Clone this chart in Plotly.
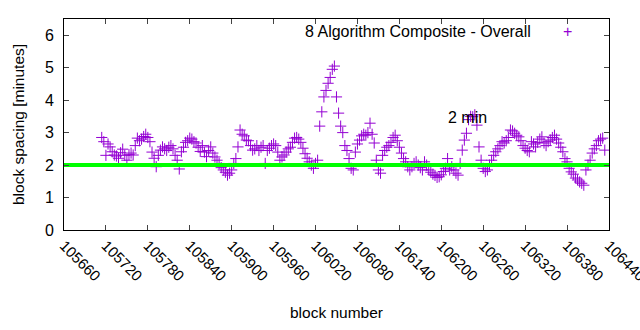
import numpy as np
import plotly.graph_objects as go

# block numbers (every 3rd block, 105714 .. 106434)
blocks = list(range(105714, 106435, 3))

# block spacing in minutes
spacing = [
    2.85, 2.72, 2.30, 2.65, 2.56, 2.41, 2.31, 2.28, 2.21, 2.38,
    2.49, 2.30, 2.15, 2.32, 2.37, 2.31, 2.60, 2.83, 2.75, 2.80,
    2.88, 2.95, 2.85, 2.72, 2.40, 2.21, 1.95, 2.30, 2.46, 2.56,
    2.50, 2.45, 2.55, 2.60, 2.50, 2.30, 2.15, 1.88, 2.41, 2.55,
    2.70, 2.75, 2.83, 2.80, 2.72, 2.68, 2.55, 2.42, 2.60, 2.40,
    2.26, 2.45, 2.56, 2.37, 2.25, 2.15, 2.05, 1.92, 1.85, 1.78,
    1.69, 1.75, 1.85, 2.05, 2.20, 2.56, 3.08, 2.95, 2.90, 2.77,
    2.75, 2.60, 2.46, 2.50, 2.60, 2.45, 2.55, 2.60, 2.05, 2.45,
    2.52, 2.60, 2.65, 2.60, 2.40, 2.15, 2.25, 2.31, 2.40, 2.50,
    2.55, 2.70, 2.83, 2.85, 2.80, 2.70, 2.52, 2.35, 2.21, 2.10,
    2.00, 1.90, 2.05, 2.15, 3.20, 3.64, 4.10, 4.30, 4.52, 4.70,
    4.95, 5.05, 4.10, 3.60, 3.20, 3.00, 2.60, 2.45, 2.20, 1.90,
    1.85, 2.40, 2.65, 2.77, 2.90, 2.95, 2.92, 3.00, 3.29, 2.95,
    2.68, 2.15, 1.85, 1.75, 2.30, 2.45, 2.55, 2.60, 2.70, 2.85,
    2.92, 2.75, 2.55, 2.37, 2.20, 2.10, 1.95, 1.85, 1.95, 2.05,
    2.10, 2.00, 1.92, 1.85, 2.10, 2.00, 1.85, 1.78, 1.72, 1.68,
    1.62, 1.64, 1.70, 1.80, 1.90, 2.20, 1.85, 1.95, 1.85, 1.75,
    1.69, 2.05, 2.46, 2.77, 2.98, 3.40, 3.50, 3.49, 3.55, 3.23,
    2.56, 2.15, 1.90, 1.80, 1.85, 2.00, 2.15, 2.30, 2.41, 2.50,
    2.60, 2.72, 2.68, 2.75, 2.85, 3.08, 3.05, 2.98, 2.92, 2.87,
    2.75, 2.60, 2.52, 2.45, 2.41, 2.72, 2.65, 2.56, 2.70, 2.80,
    2.87, 2.68, 2.60, 2.72, 2.77, 2.85, 2.92, 2.80, 2.68, 2.55,
    2.41, 2.20, 2.10, 1.90, 1.79, 1.72, 1.60, 1.54, 1.48, 1.44,
    1.38, 1.85, 2.00, 2.15, 2.37, 2.50, 2.60, 2.75, 2.80, 2.83,
    2.46,
]

x_ticks = list(range(105660, 106441, 60))
x_tick_labels = [str(v) for v in x_ticks]
y_ticks = [0, 1, 2, 3, 4, 5, 6]

target_x = [105660, 106440]
target_y = [2, 2]

series_name = "8 Algorithm Composite - Overall"
label_text = "2 min"
label_pos = (106207, 3.48)

FONT = "Liberation Sans, Arial, sans-serif"

fig = go.Figure()
fig.add_trace(go.Scatter(
    x=blocks, y=spacing, mode="markers", name=series_name,
    marker=dict(symbol="cross-thin", size=8, color="#9400D3",
                line=dict(color="#9400D3", width=1)),
    showlegend=False,
))
fig.add_trace(go.Scatter(
    x=target_x, y=target_y, mode="lines",
    line=dict(color="#00FF00", width=4), showlegend=False,
))

fig.update_layout(
    width=640, height=330,
    margin=dict(l=64, r=31, t=19, b=100),
    paper_bgcolor="white", plot_bgcolor="white",
    font=dict(family=FONT, size=16, color="black"),
    xaxis=dict(
        range=[105660, 106440.05], tickmode="array", tickvals=x_ticks,
        ticktext=x_tick_labels, tickangle=45, ticks="inside", ticklen=5,
        mirror="allticks", showline=True, linecolor="black", linewidth=1,
        showgrid=False, zeroline=False, tickfont=dict(size=15),
        ticklabeloverflow="allow", automargin=False,
        title=dict(text="block number", standoff=23, font=dict(size=15.5)),
    ),
    yaxis=dict(
        range=[0, 6.5], tickmode="array", tickvals=y_ticks,
        ticks="inside", ticklen=5, mirror="allticks", showline=True,
        linecolor="black", linewidth=1, showgrid=False, zeroline=False,
        ticklabelstandoff=6, automargin=False,
        title=dict(text="block spacing [minutes]", standoff=16,
                   font=dict(size=15.5)),
    ),
    annotations=[
        dict(x=label_pos[0], y=label_pos[1], xref="x", yref="y",
             text=label_text, showarrow=False, xanchor="left",
             yanchor="middle", font=dict(size=16, color="black")),
        dict(x=533, y=32, xref="paper", yref="paper", text=series_name,
             showarrow=False, xanchor="right", yanchor="middle",
             font=dict(size=16, color="black")),
        dict(x=567, y=32, xref="paper", yref="paper", text="+",
             showarrow=False, xanchor="center", yanchor="middle",
             font=dict(size=16, color="#9400D3")),
    ],
)

# convert pixel positions of the key into paper coordinates
for a in fig.layout.annotations[1:]:
    a.x = (a.x - 64) / (640 - 64 - 31)
    a.y = (330 - 100 - a.y) / (330 - 19 - 100)

fig.write_html("out.html")
